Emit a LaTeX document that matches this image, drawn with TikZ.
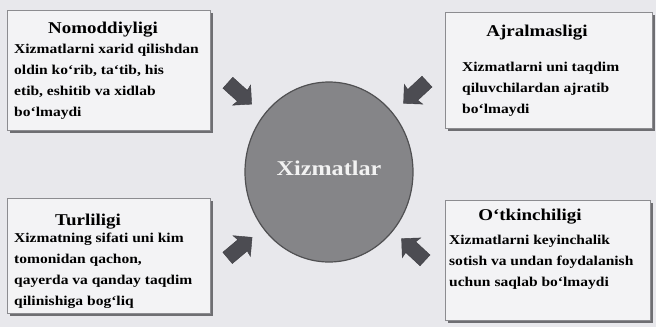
\documentclass[tikz,border=0pt]{standalone}
\usepackage{fontspec}
\setmainfont{Liberation Serif}[FakeStretch=1.15]
\usetikzlibrary{shapes.geometric,shapes.arrows}
\definecolor{bgc}{HTML}{E8E8EC}
\definecolor{boxc}{HTML}{F3F3F5}
\definecolor{edgec}{HTML}{8C8C90}
\definecolor{shadc}{HTML}{6E6E72}
\definecolor{circc}{HTML}{858588}
\definecolor{arrc}{HTML}{4C4C52}
\tikzset{
  infobox/.style={draw=edgec, line width=1pt, fill=boxc, inner sep=0pt, anchor=north west},
  shadowbox/.style={fill=shadc, inner sep=0pt, anchor=north west},
  titletext/.style={font=\bfseries\fontsize{16.5}{19}\selectfont, inner sep=0pt},
  bodytext/.style={font=\bfseries\fontsize{13.5}{21}\selectfont, align=left, inner sep=0pt, anchor=north west},
  blockarrow/.style={single arrow, fill=arrc, draw=arrc!80!black, minimum height=32pt, minimum width=27pt, single arrow head extend=6pt, single arrow head indent=1pt, inner sep=7pt},
}
\begin{document}
\begin{tikzpicture}[x=1pt,y=-1pt]
\useasboundingbox[fill=bgc] (0,0) rectangle (656,327);
% shadows
\node[shadowbox, minimum width=203pt, minimum height=120pt] (s1) at (10,13) {};
\node[shadowbox, minimum width=207pt, minimum height=116pt] (s2) at (448,15) {};
\node[shadowbox, minimum width=203pt, minimum height=115pt] (s3) at (10,201) {};
\node[shadowbox, minimum width=205pt, minimum height=120pt] (s4) at (448,203) {};
% boxes
\node[infobox, minimum width=203pt, minimum height=120pt] (b1) at (7,10) {};
\node[infobox, minimum width=207pt, minimum height=116pt] (b2) at (445,12) {};
\node[infobox, minimum width=203pt, minimum height=115pt] (b3) at (7,198) {};
\node[infobox, minimum width=205pt, minimum height=120pt] (b4) at (445,200) {};
% titles
\node[titletext] (t1) at (103,30) {Nomoddiyligi};
\node[titletext] (t2) at (537,33) {Ajralmasligi};
\node[titletext] (t3) at (88,222) {Turliligi};
\node[titletext] (t4) at (530,217) {O`tkinchiligi};
% bodies
\node[bodytext] (d1) at (14,44) {Xizmatlarni xarid qilishdan\\oldin ko`rib, ta`tib, his\\etib, eshitib va xidlab\\bo`lmaydi};
\node[bodytext] (d2) at (462,62) {Xizmatlarni uni taqdim\\qiluvchilardan ajratib\\bo`lmaydi};
\node[bodytext] (d3) at (14,233) {Xizmatning sifati uni kim\\tomonidan qachon,\\qayerda va qanday taqdim\\qilinishiga bog`liq};
\node[bodytext] (d4) at (449,235) {Xizmatlarni keyinchalik\\sotish va undan foydalanish\\uchun saqlab bo`lmaydi};
% centre
\node[ellipse, fill=circc, draw=circc!60!black, line width=1.2pt, minimum width=168pt, minimum height=180pt, inner sep=0pt] (c) at (329,172) {};
\node[font=\bfseries\fontsize{21}{24}\selectfont, text=white!90!gray] (ct) at (329,168) {Xizmatlar};
% arrows
\node[blockarrow, rotate=-42] (a1) at (237,91) {};
\node[blockarrow, rotate=-137] (a2) at (418,90) {};
\node[blockarrow, rotate=40] (a3) at (237,250) {};
\node[blockarrow, rotate=137] (a4) at (416,252) {};
\end{tikzpicture}
\end{document}
